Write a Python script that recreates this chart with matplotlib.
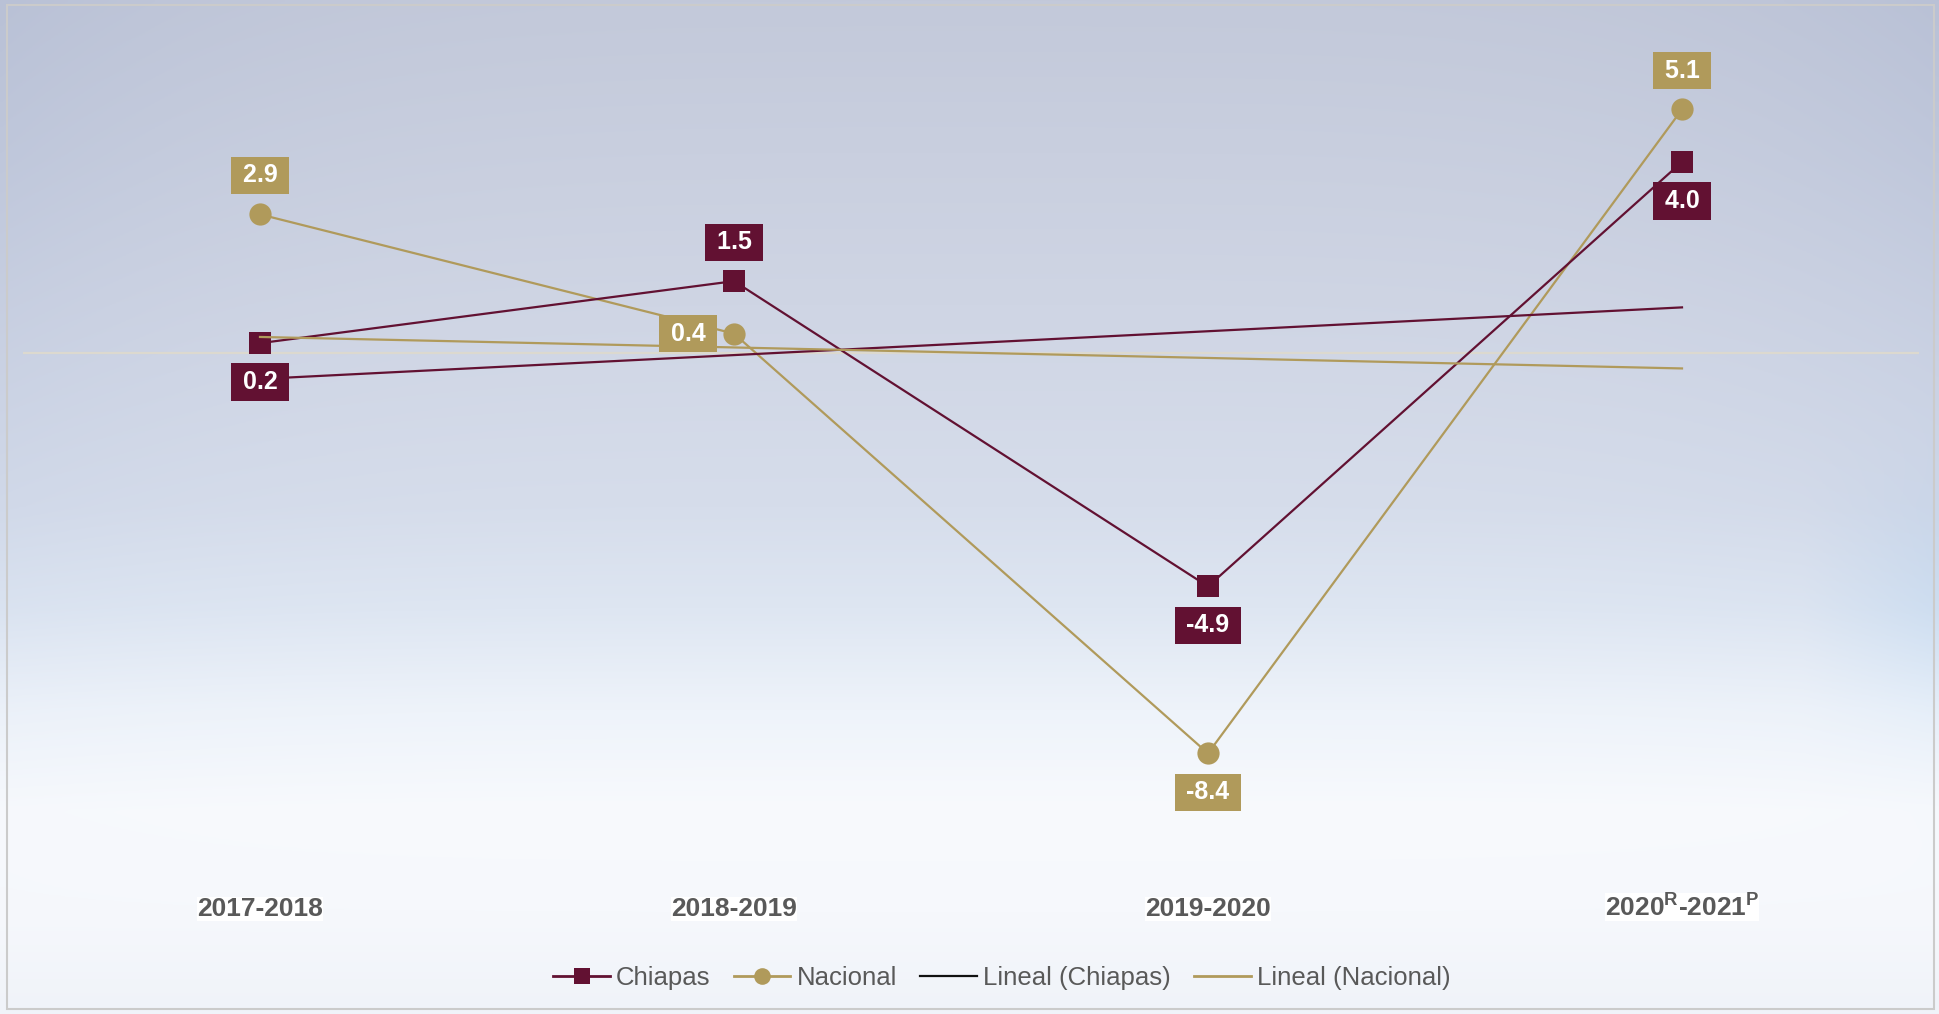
import numpy as np
import matplotlib
matplotlib.use('Agg')
import matplotlib.pyplot as plt
from matplotlib.lines import Line2D
from matplotlib.patches import Rectangle
import matplotlib.transforms as mtransforms

# ---------------- data ----------------
categories = ['2017-2018', '2018-2019', '2019-2020',
              r'2020$^{\mathbf{R}}$-2021$^{\mathbf{P}}$']
chiapas = [0.2, 1.5, -4.9, 4.0]
nacional = [2.9, 0.4, -8.4, 5.1]
chiapas_label_pos = ['below', 'above', 'below', 'below']
nacional_label_pos = ['above', 'left', 'below', 'above']
legend_labels = ['Chiapas', 'Nacional', 'Lineal (Chiapas)', 'Lineal (Nacional)']

# ---------------- style ----------------
plt.rcParams['font.family'] = ['Liberation Sans', 'DejaVu Sans']
plt.rcParams['mathtext.fontset'] = 'custom'
plt.rcParams['mathtext.rm'] = 'Liberation Sans'
plt.rcParams['mathtext.bf'] = 'Liberation Sans:bold'

MAROON = '#621132'
GOLD = '#B09A5B'
TEXT_GRAY = '#595959'

W, H, DPI = 1939, 1014, 100
fig = plt.figure(figsize=(W / DPI, H / DPI), dpi=DPI)

# ---------------- background gradient ----------------
bg = fig.add_axes([0, 0, 1, 1], zorder=-10)
ny, nx = 400, 600
yy = np.linspace(0, 1, ny)[:, None]
xx = np.linspace(0, 1, nx)[None, :]
stops_y = [0.0, 0.3, 0.5, 0.6, 0.7, 0.8, 0.9, 1.0]
stops_r = [195, 207, 214, 222, 238, 248, 246, 240]
stops_g = [201, 213, 221, 230, 243, 250, 248, 243]
stops_b = [218, 228, 235, 242, 250, 253, 252, 249]
r = np.interp(yy, stops_y, stops_r) * np.ones_like(xx)
g = np.interp(yy, stops_y, stops_g) * np.ones_like(xx)
b = np.interp(yy, stops_y, stops_b) * np.ones_like(xx)
edge = np.abs(2 * xx - 1) ** 4
upper = np.clip(1.2 - yy * 1.3, 0, 1)
r = r - 10 * edge * upper
g = g - 8 * edge * upper
b = b - 4 * edge * upper
# faint bluish tint at right edge mid-height
tint = np.exp(-((yy - 0.6) / 0.12) ** 2) * np.clip((xx - 0.93) / 0.07, 0, 1)
r = r - 12 * tint
g = g - 5 * tint
img = np.clip(np.dstack([r, g, b]) / 255.0, 0, 1)
bg.imshow(img, aspect='auto', extent=[0, 1, 0, 1], origin='upper')
bg.set_xlim(0, 1)
bg.set_ylim(0, 1)
bg.axis('off')
bg.add_patch(Rectangle((7 / W, 5 / H), (1934 - 7) / W, (1009 - 5) / H,
                       transform=fig.transFigure, fill=False,
                       edgecolor='#cbcbcb', lw=1.5))

# ---------------- main axes ----------------
ymin, ymax = -10, 6
px_per_unit = 47.7
zero_px = 352.7
top_px = zero_px - ymax * px_per_unit
bot_px = zero_px - ymin * px_per_unit
ax = fig.add_axes([23 / W, 1 - bot_px / H, (1919 - 23) / W, (bot_px - top_px) / H])
ax.set_facecolor('none')
for s in ax.spines.values():
    s.set_visible(False)
ax.set_xlim(-0.5, len(categories) - 0.5)
ax.set_ylim(ymin, ymax)
ax.set_xticks([])
ax.set_yticks([])

x = np.arange(len(categories))
ax.axhline(0, color='#dcd9cf', lw=1.6, zorder=1)

ax.plot(x, chiapas, color=MAROON, lw=1.6, marker='s', ms=16.5,
        markeredgewidth=0, zorder=4)
ax.plot(x, nacional, color=GOLD, lw=1.6, marker='o', ms=16,
        markeredgewidth=0, zorder=3)

# linear trend lines
cf = np.polyfit(x, chiapas, 1)
nf = np.polyfit(x, nacional, 1)
xe = np.array([x[0], x[-1]])
ax.plot(xe, np.polyval(cf, xe), color=MAROON, lw=1.6, zorder=5)
ax.plot(xe, np.polyval(nf, xe), color=GOLD, lw=1.6, zorder=5)

# data labels
offsets = {'above': (0, 28), 'below': (0, -28), 'left': (-33, 0)}
SP = '\u2009'


def add_labels(vals, poss, color):
    for xi, v, p in zip(x, vals, poss):
        ax.annotate(SP + f'{v:.1f}' + SP, (xi, v), xytext=offsets[p],
                    textcoords='offset points', ha='center', va='center',
                    fontsize=18, fontweight='bold', color='white', zorder=10,
                    bbox=dict(boxstyle='square,pad=0.27', fc=color, ec='none'))


add_labels(chiapas, chiapas_label_pos, MAROON)
add_labels(nacional, nacional_label_pos, GOLD)

# category labels
trans = mtransforms.blended_transform_factory(ax.transData, fig.transFigure)
for xi, cat in zip(x, categories):
    ax.text(xi, 1 - 915.5 / H, cat, transform=trans, ha='center', va='baseline',
            fontsize=19, fontweight='bold', color=TEXT_GRAY,
            bbox=dict(boxstyle='square,pad=0.0', fc='white', ec='none'))

# legend
handles = [
    Line2D([], [], color=MAROON, lw=2, marker='s', ms=12, markeredgewidth=0),
    Line2D([], [], color=GOLD, lw=2, marker='o', ms=12, markeredgewidth=0),
    Line2D([], [], color='#111111', lw=1.6),
    Line2D([], [], color=GOLD, lw=2),
]
fig.legend(handles, legend_labels, loc='center',
           bbox_to_anchor=(1002 / W, 1 - 978 / H), ncol=4, frameon=False,
           fontsize=18.5, labelcolor=TEXT_GRAY, handlelength=2.2,
           handletextpad=0.25, columnspacing=0.9)

fig.savefig('out.png', dpi=DPI)
